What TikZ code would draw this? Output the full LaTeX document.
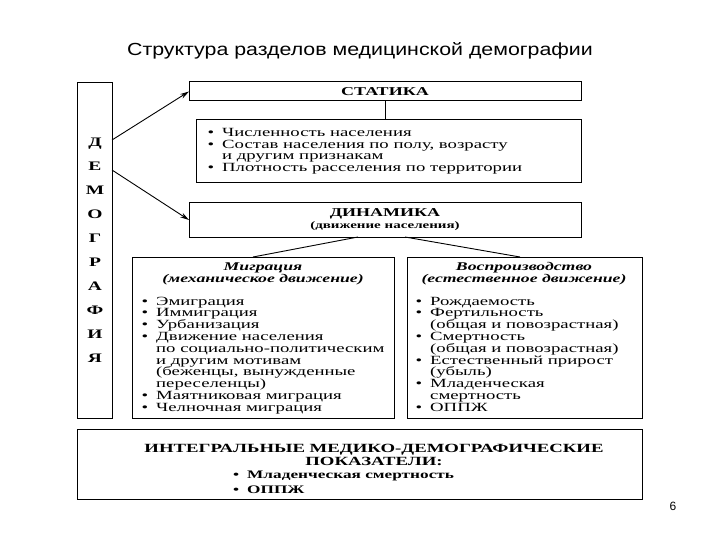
\documentclass[tikz,border=0pt]{standalone}
\usepackage{fontspec}
\setmainfont{Liberation Serif}[FakeStretch=1.5]
\newfontfamily\titlefont{Liberation Sans}[FakeStretch=1.22]
\newfontfamily\numfont{Liberation Sans}
\usetikzlibrary{arrows.meta}
\newcommand\bul{\llap{\textbullet\hspace{8pt}}}
\begin{document}
\begin{tikzpicture}[x=1pt,y=-1pt,
  box/.style={draw, line width=1pt, anchor=north west, inner sep=0pt, outer sep=0pt},
  li/.style={inner sep=0pt, anchor=base west, font=\fontsize{12.5}{12.5}\selectfont},
  hd/.style={inner sep=0pt, anchor=base, font=\fontsize{12}{12}\selectfont\bfseries},
  hi/.style={inner sep=0pt, anchor=base, font=\fontsize{11.8}{12}\selectfont\bfseries\itshape},
  lt/.style={inner sep=0pt, anchor=base, font=\fontsize{13}{13}\selectfont\bfseries},
  conn/.style={line width=0.9pt},
  arr/.style={line width=0.9pt, -{Stealth[length=9pt,width=5pt]}}]
\useasboundingbox (0,0) rectangle (720,540);
\fill[white] (0,0) rectangle (720,540);
% title
\node[inner sep=0pt, anchor=base, font=\titlefont\fontsize{17.5}{17.5}\selectfont] (title) at (360,56) {Структура разделов медицинской демографии};
% boxes
\node[box, minimum width=35pt, minimum height=335pt] (demo) at (77,83) {};
\node[box, minimum width=392pt, minimum height=19pt] (stat) at (189,82) {};
\node[box, minimum width=385pt, minimum height=63pt] (slist) at (196,120) {};
\node[box, minimum width=392pt, minimum height=34pt] (dyn) at (189,203) {};
\node[box, minimum width=262pt, minimum height=161pt] (mig) at (132,257) {};
\node[box, minimum width=235pt, minimum height=161pt] (rep) at (407,257) {};
\node[box, minimum width=565pt, minimum height=70pt] (integ) at (77,429) {};
% connectors
\draw[arr] ([yshift=-57pt]demo.north east) -- (stat.west);
\draw[arr] ([yshift=-87pt]demo.north east) -- (dyn.west);
\draw[conn] (stat.south) -- (stat.south |- slist.north);
\draw[conn] ([xshift=-27pt]dyn.south) -- ([xshift=-10pt]mig.north);
\draw[conn] ([xshift=20pt]dyn.south) -- ([xshift=-4.5pt]rep.north);
% letters
\foreach \l [count=\i] in {Д,Е,М,О,Г,Р,А,Ф,И,Я}
  \node[lt] (let\i) at (95,{147+(\i-1)*23.9}) {\l};
% statics
\node[hd] (stath) at (385,96) {СТАТИКА};
\node[li] (s1) at (222,137) {\bul Численность населения};
\node[li] (s2) at (222,148.5) {\bul Состав населения по полу, возрасту};
\node[li] (s3) at (222,160) {и другим признакам};
\node[li] (s4) at (222,171.5) {\bul Плотность расселения по территории};
% dynamics
\node[hd] (dynh) at (385,216) {ДИНАМИКА};
\node[hd, font=\fontsize{10}{10}\selectfont\bfseries] (dyns) at (385,229) {(движение населения)};
% migration
\node[hi] (migh) at (263,270) {Миграция};
\node[hi] (migs) at (263,282) {(механическое движение)};
\foreach \t/\b [count=\i] in {Эмиграция/1,Иммиграция/1,Урбанизация/1,Движение населения/1,по социально-политическим/0,и другим мотивам/0,{(беженцы, вынужденные}/0,переселенцы)/0,Маятниковая миграция/1,Челночная миграция/1}
  \node[li] (m\i) at (156,{305+(\i-1)*11.8}) {\ifnum\b=1 \bul\fi\t};
% reproduction
\node[hi] (reph) at (524,270) {Воспроизводство};
\node[hi] (reps) at (524,282) {(естественное движение)};
\foreach \t/\b [count=\i] in {Рождаемость/1,Фертильность/1,(общая и повозрастная)/0,Смертность/1,(общая и повозрастная)/0,Естественный прирост/1,(убыль)/0,Младенческая/1,смертность/0,ОППЖ/1}
  \node[li] (r\i) at (430,{305+(\i-1)*11.8}) {\ifnum\b=1 \bul\fi\t};
% integral
\node[lt, font=\fontsize{12.5}{12.5}\selectfont\bfseries] (i1) at (374,452) {ИНТЕГРАЛЬНЫЕ МЕДИКО-ДЕМОГРАФИЧЕСКИЕ};
\node[lt, font=\fontsize{12.5}{12.5}\selectfont\bfseries] (i2) at (374,465) {ПОКАЗАТЕЛИ:};
\node[li, font=\fontsize{11.5}{11.5}\selectfont\bfseries] (i3) at (247,478) {\bul Младенческая смертность};
\node[li, font=\fontsize{11.5}{11.5}\selectfont\bfseries] (i4) at (247,493) {\bul ОППЖ};
% page number
\node[inner sep=0pt, anchor=base, font=\numfont\fontsize{12}{12}\selectfont] (pg) at (673,510) {6};
\end{tikzpicture}
\end{document}
